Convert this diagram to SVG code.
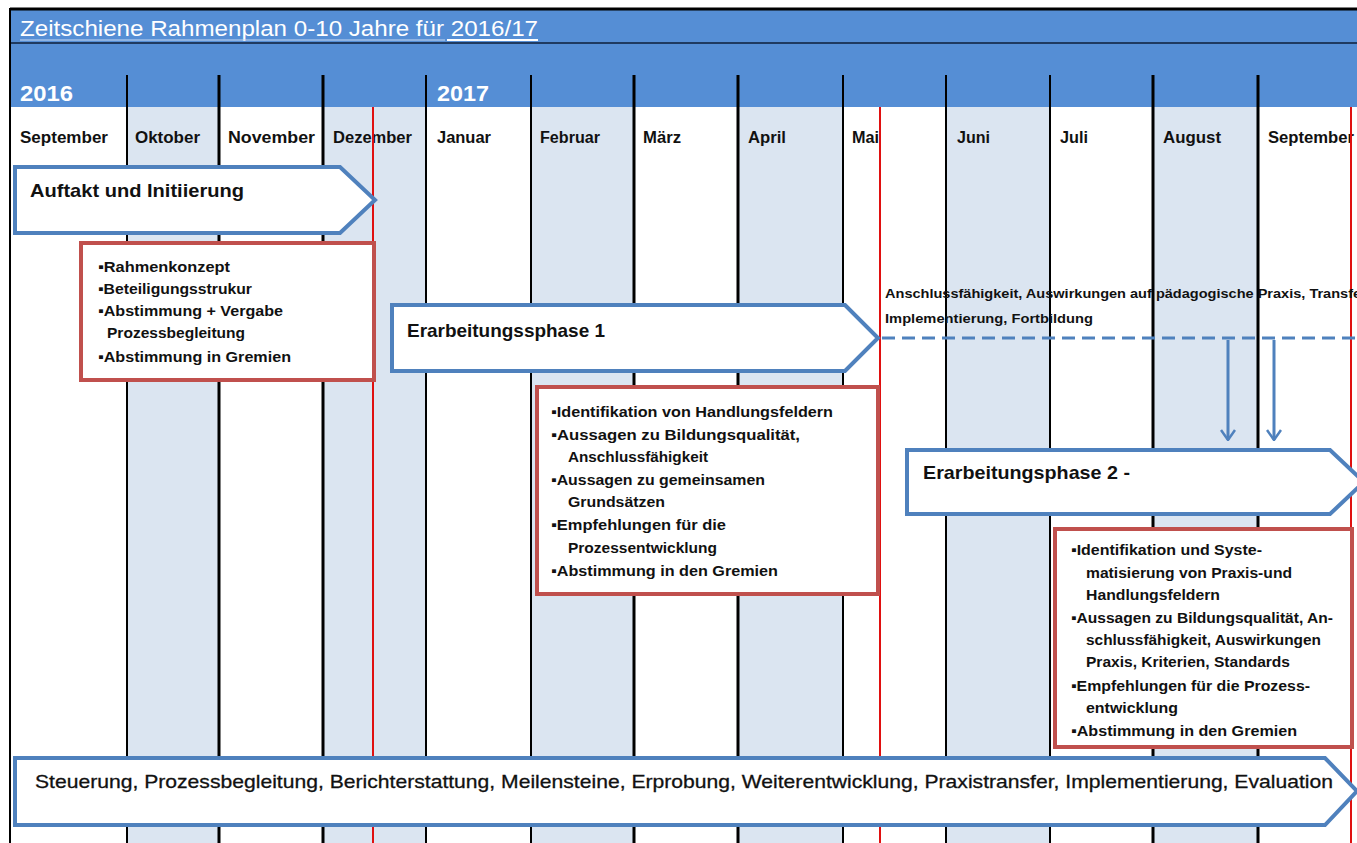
<svg xmlns="http://www.w3.org/2000/svg" width="1357" height="843" viewBox="0 0 1357 843">
<style>
text{font-family:"Liberation Sans",Arial,sans-serif;fill:#111}
.hdrt{fill:#fff;font-weight:bold;font-size:22px}
.mon{font-weight:bold;font-size:16px}
.ph{font-weight:bold;font-size:19px}
.bx{font-weight:bold;font-size:15px}
.sm{font-weight:bold;font-size:13px}
.col{fill:#dbe5f1}
.vl{stroke:#000}
.rl{stroke:#e01010;stroke-width:2}
.arr{fill:#fff;stroke:#4f81bd;stroke-width:4;stroke-linejoin:miter}
.box{fill:#fff;stroke:#c0504d;stroke-width:4}
.con{stroke:#4f81bd;stroke-width:3;fill:none}
</style>
<defs>
<marker id="vh" viewBox="0 0 12 16" refX="11" refY="8" markerWidth="12" markerHeight="16" markerUnits="userSpaceOnUse" orient="auto">
<path d="M1,1 L11,8 L1,15" fill="none" stroke="#4f81bd" stroke-width="2.5"/>
</marker>
</defs>
<rect x="0" y="0" width="1357" height="843" fill="#fff"/>
<g id="header">
<rect x="10" y="9" width="1347" height="98" fill="#558ed5"/>
<line x1="10" y1="9" x2="1357" y2="9" stroke="#000" stroke-width="3"/>
<line x1="10" y1="43" x2="1357" y2="43" stroke="#1f3a60" stroke-width="2"/>
<text class="hdrt" x="20" y="36" style="font-weight:normal" textLength="518" lengthAdjust="spacingAndGlyphs">Zeitschiene Rahmenplan 0-10 Jahre für 2016/17</text>
<line x1="20" y1="40" x2="445" y2="40" stroke="#c8d8f0" stroke-width="1"/>
<line x1="447" y1="40" x2="538" y2="40" stroke="#fff" stroke-width="2"/>
<text class="hdrt" x="20" y="101" textLength="53" lengthAdjust="spacingAndGlyphs">2016</text>
<text class="hdrt" x="437" y="101" textLength="52" lengthAdjust="spacingAndGlyphs">2017</text>
</g>
<g id="columns">
<rect class="col" x="127" y="107" width="92" height="736"/>
<rect class="col" x="323" y="107" width="103" height="736"/>
<rect class="col" x="531" y="107" width="103" height="736"/>
<rect class="col" x="738" y="107" width="105" height="736"/>
<rect class="col" x="946" y="107" width="104" height="736"/>
<rect class="col" x="1153" y="107" width="105" height="736"/>
<line x1="10" y1="8" x2="10" y2="843" stroke="#000" stroke-width="2"/>
<line class="vl" x1="127" y1="75" x2="127" y2="843" stroke-width="2"/>
<line class="vl" x1="219" y1="75" x2="219" y2="843" stroke-width="3"/>
<line class="vl" x1="323" y1="75" x2="323" y2="843" stroke-width="3"/>
<line class="vl" x1="426" y1="75" x2="426" y2="843" stroke-width="2"/>
<line class="vl" x1="531" y1="75" x2="531" y2="843" stroke-width="2"/>
<line class="vl" x1="634" y1="75" x2="634" y2="843" stroke-width="3"/>
<line class="vl" x1="738" y1="75" x2="738" y2="843" stroke-width="3"/>
<line class="vl" x1="843" y1="75" x2="843" y2="843" stroke-width="2"/>
<line class="vl" x1="946" y1="75" x2="946" y2="843" stroke-width="2"/>
<line class="vl" x1="1050" y1="75" x2="1050" y2="843" stroke-width="2"/>
<line class="vl" x1="1153" y1="75" x2="1153" y2="843" stroke-width="3"/>
<line class="vl" x1="1258" y1="75" x2="1258" y2="843" stroke-width="3"/>
</g>
<g id="months">
<text class="mon" x="20" y="143" textLength="88" lengthAdjust="spacingAndGlyphs">September</text>
<text class="mon" x="135" y="143" textLength="65" lengthAdjust="spacingAndGlyphs">Oktober</text>
<text class="mon" x="228" y="143" textLength="87" lengthAdjust="spacingAndGlyphs">November</text>
<text class="mon" x="333" y="143" textLength="79" lengthAdjust="spacingAndGlyphs">Dezember</text>
<text class="mon" x="437" y="143" textLength="54" lengthAdjust="spacingAndGlyphs">Januar</text>
<text class="mon" x="540" y="143" textLength="60" lengthAdjust="spacingAndGlyphs">Februar</text>
<text class="mon" x="643" y="143" textLength="38" lengthAdjust="spacingAndGlyphs">März</text>
<text class="mon" x="748" y="143" textLength="38" lengthAdjust="spacingAndGlyphs">April</text>
<text class="mon" x="852" y="143" textLength="27" lengthAdjust="spacingAndGlyphs">Mai</text>
<text class="mon" x="957" y="143" textLength="33" lengthAdjust="spacingAndGlyphs">Juni</text>
<text class="mon" x="1060" y="143" textLength="28" lengthAdjust="spacingAndGlyphs">Juli</text>
<text class="mon" x="1163" y="143" textLength="58" lengthAdjust="spacingAndGlyphs">August</text>
<text class="mon" x="1268" y="143" textLength="86" lengthAdjust="spacingAndGlyphs">September</text>
</g>
<g id="milestones">
<line class="rl" x1="373" y1="107" x2="373" y2="843"/>
<line class="rl" x1="880" y1="107" x2="880" y2="843"/>
<line class="rl" x1="1351" y1="107" x2="1351" y2="843"/>
</g>
<g id="connectors">
<line class="con" x1="882" y1="338" x2="1357" y2="338" stroke-dasharray="13 7"/>
<line class="con" x1="1228" y1="340" x2="1228" y2="440" marker-end="url(#vh)"/>
<line class="con" x1="1274" y1="340" x2="1274" y2="440" marker-end="url(#vh)"/>
</g>
<g id="transfer-note">
<text class="sm" x="885" y="298" textLength="485" lengthAdjust="spacingAndGlyphs">Anschlussfähigkeit, Auswirkungen auf pädagogische Praxis, Transfer,</text>
<text class="sm" x="885" y="323" textLength="208" lengthAdjust="spacingAndGlyphs">Implementierung, Fortbildung</text>
</g>
<g id="auftakt">
<polygon class="arr" points="15,167 340,167 375,200 340,233 15,233"/>
<text class="ph" x="30" y="197" textLength="214" lengthAdjust="spacingAndGlyphs">Auftakt und Initiierung</text>
</g>
<g id="box1">
<rect class="box" x="81" y="243" width="293" height="137"/>
<text class="bx" x="98" y="272" textLength="132" lengthAdjust="spacingAndGlyphs">▪Rahmenkonzept</text>
<text class="bx" x="98" y="294" textLength="154" lengthAdjust="spacingAndGlyphs">▪Beteiligungsstrukur</text>
<text class="bx" x="98" y="316" textLength="185" lengthAdjust="spacingAndGlyphs">▪Abstimmung + Vergabe</text>
<text class="bx" x="107" y="338" textLength="138" lengthAdjust="spacingAndGlyphs">Prozessbegleitung</text>
<text class="bx" x="98" y="362" textLength="193" lengthAdjust="spacingAndGlyphs">▪Abstimmung in Gremien</text>
</g>
<g id="phase1">
<polygon class="arr" points="392,305 845,305 878,338 845,371 392,371"/>
<text class="ph" x="407" y="337" textLength="198" lengthAdjust="spacingAndGlyphs">Erarbeitungssphase 1</text>
</g>
<g id="box2">
<rect class="box" x="537" y="387" width="341" height="207"/>
<text class="bx" x="551" y="417" textLength="282" lengthAdjust="spacingAndGlyphs">▪Identifikation von Handlungsfeldern</text>
<text class="bx" x="551" y="440" textLength="249" lengthAdjust="spacingAndGlyphs">▪Aussagen zu Bildungsqualität,</text>
<text class="bx" x="568" y="462" textLength="140" lengthAdjust="spacingAndGlyphs">Anschlussfähigkeit</text>
<text class="bx" x="551" y="485" textLength="214" lengthAdjust="spacingAndGlyphs">▪Aussagen zu gemeinsamen</text>
<text class="bx" x="568" y="507" textLength="97" lengthAdjust="spacingAndGlyphs">Grundsätzen</text>
<text class="bx" x="551" y="530" textLength="175" lengthAdjust="spacingAndGlyphs">▪Empfehlungen für die</text>
<text class="bx" x="568" y="553" textLength="149" lengthAdjust="spacingAndGlyphs">Prozessentwicklung</text>
<text class="bx" x="551" y="576" textLength="227" lengthAdjust="spacingAndGlyphs">▪Abstimmung in den Gremien</text>
</g>
<g id="phase2">
<polygon class="arr" points="907,450 1330,450 1364,482 1330,514 907,514"/>
<text class="ph" x="923" y="479" textLength="207" lengthAdjust="spacingAndGlyphs">Erarbeitungsphase 2  -</text>
</g>
<g id="box3">
<rect class="box" x="1055" y="529" width="297" height="218"/>
<text class="bx" x="1071" y="555" textLength="191" lengthAdjust="spacingAndGlyphs">▪Identifikation und Syste-</text>
<text class="bx" x="1086" y="578" textLength="206" lengthAdjust="spacingAndGlyphs">matisierung von Praxis-und</text>
<text class="bx" x="1086" y="600" textLength="134" lengthAdjust="spacingAndGlyphs">Handlungsfeldern</text>
<text class="bx" x="1071" y="623" textLength="262" lengthAdjust="spacingAndGlyphs">▪Aussagen zu Bildungsqualität, An-</text>
<text class="bx" x="1086" y="645" textLength="235" lengthAdjust="spacingAndGlyphs">schlussfähigkeit, Auswirkungen</text>
<text class="bx" x="1086" y="667" textLength="204" lengthAdjust="spacingAndGlyphs">Praxis, Kriterien, Standards</text>
<text class="bx" x="1071" y="691" textLength="239" lengthAdjust="spacingAndGlyphs">▪Empfehlungen für die Prozess-</text>
<text class="bx" x="1086" y="713" textLength="92" lengthAdjust="spacingAndGlyphs">entwicklung</text>
<text class="bx" x="1071" y="736" textLength="226" lengthAdjust="spacingAndGlyphs">▪Abstimmung in den Gremien</text>
</g>
<g id="steuerung">
<polygon class="arr" points="15,758 1325,758 1357,791 1325,825 15,825"/>
<text x="35" y="788" style="font-size:19px;stroke:#111;stroke-width:0.3" textLength="1298" lengthAdjust="spacingAndGlyphs">Steuerung, Prozessbegleitung, Berichterstattung, Meilensteine, Erprobung, Weiterentwicklung, Praxistransfer, Implementierung, Evaluation</text>
</g>
</svg>
